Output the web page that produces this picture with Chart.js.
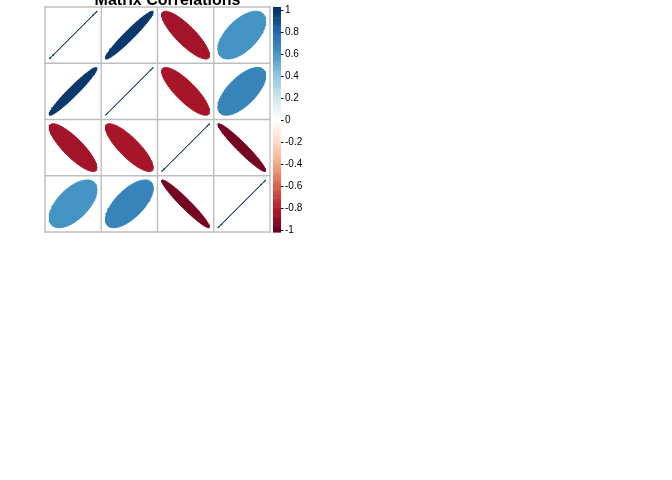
<!DOCTYPE html>
<html><head><meta charset="utf-8">
<script src="https://cdn.jsdelivr.net/npm/chart.js@4/dist/chart.umd.min.js"></script>
<style>html,body{margin:0;padding:0;background:#fff}#wrap{width:672px;height:480px;position:relative}</style>
</head><body><div id="wrap"><canvas id="c"></canvas></div>
<script>
// ---- data ----
const chartTitle = 'Matrix Correlations';
const corrRow1 = [1.00, 0.96, -0.84, 0.59];
const corrRow2 = [0.96, 1.00, -0.83, 0.66];
const corrRow3 = [-0.84, -0.83, 1.00, -0.96];
const corrRow4 = [0.59, 0.66, -0.96, 1.00];
const corrRows = [corrRow1, corrRow2, corrRow3, corrRow4];
const colorbarTicks = [1, 0.8, 0.6, 0.4, 0.2, 0, -0.2, -0.4, -0.6, -0.8, -1];
const colorbarLabels = ['1', '0.8', '0.6', '0.4', '0.2', '0', '-0.2', '-0.4', '-0.6', '-0.8', '-1'];
const paletteAnchors = ['#67001F','#B2182B','#D6604D','#F4A582','#FDDBC7','#FFFFFF','#D1E5F0','#92C5DE','#4393C3','#2166AC','#053061'];

// ---- palette (colorRampPalette(anchors)(200)) ----
const NCOL = 200;
function hexToRgb(h){return [parseInt(h.slice(1,3),16),parseInt(h.slice(3,5),16),parseInt(h.slice(5,7),16)];}
const anchorRgb = paletteAnchors.map(hexToRgb);
function paletteColor(i){
  const t = i/(NCOL-1)*(anchorRgb.length-1);
  const s = Math.min(Math.floor(t), anchorRgb.length-2);
  const f = t - s;
  const a = anchorRgb[s], b = anchorRgb[s+1];
  const c = a.map((v,j)=>Math.round(v+(b[j]-v)*f));
  return 'rgb('+c.join(',')+')';
}
function colorFor(r){
  let n = (r+1)/2; if (n>=1) n = 1-1e-10;
  return paletteColor(Math.floor(n*NCOL));
}
function ellipsePoints(r, row, col){
  const rr = Math.max(-1, Math.min(1, r));
  const d = Math.acos(rr), pts = [];
  for (let i=0;i<99;i++){
    const k = 2*Math.PI*i/98;
    const ex = 0.85*Math.cos(k + d/2)/2;
    const ey = 0.85*Math.cos(k - d/2)/2;
    pts.push({x: col+0.5+ex, y: row+0.5-ey});
  }
  return pts;
}

const datasets = [];
corrRows.forEach((rowVals, ri)=>{
  rowVals.forEach((r, ci)=>{
    const col = colorFor(r);
    datasets.push({
      data: ellipsePoints(r, ri, ci),
      showLine: true, fill: 'shape', tension: 0,
      borderColor: col, backgroundColor: col, borderWidth: 1,
      pointRadius: 0, pointHoverRadius: 0
    });
  });
});

const decorPlugin = {
  id: 'decor',
  beforeDatasetsDraw(chart){
    const ctx = chart.ctx, xs = chart.scales.x, ys = chart.scales.y;
    ctx.save();
    ctx.strokeStyle = '#BEBEBE'; ctx.lineWidth = 1.4;
    const n = corrRows.length;
    for (let i=0;i<=n;i++){
      const px = xs.getPixelForValue(i);
      ctx.beginPath(); ctx.moveTo(px, ys.getPixelForValue(0)-0.7); ctx.lineTo(px, ys.getPixelForValue(n)+0.7); ctx.stroke();
      const py = ys.getPixelForValue(i);
      ctx.beginPath(); ctx.moveTo(xs.getPixelForValue(0)-0.7, py); ctx.lineTo(xs.getPixelForValue(n)+0.7, py); ctx.stroke();
    }
    ctx.restore();
  },
  afterDraw(chart){
    const ctx = chart.ctx, cb = chart.scales.cb, area = chart.chartArea;
    ctx.save();
    // colorbar
    const x0 = area.right + 3, w = 8;
    for (let i=0;i<NCOL;i++){
      const v0 = -1 + 2*i/NCOL, v1 = -1 + 2*(i+1)/NCOL;
      const yA = cb.getPixelForValue(v1), yB = cb.getPixelForValue(v0);
      ctx.fillStyle = paletteColor(i);
      ctx.fillRect(x0, yA, w, yB - yA + 0.6);
    }
    ctx.fillStyle = '#000'; ctx.strokeStyle = '#000'; ctx.lineWidth = 1;
    ctx.font = '10px "Liberation Sans", Arial, sans-serif';
    ctx.textAlign = 'left'; ctx.textBaseline = 'middle';
    colorbarTicks.forEach((v, i)=>{
      const y = cb.getPixelForValue(v*0.98) + 0.5;
      ctx.beginPath(); ctx.moveTo(x0+w, Math.round(y)+0.5); ctx.lineTo(x0+w+2.5, Math.round(y)+0.5); ctx.stroke();
      ctx.fillText(colorbarLabels[i], x0+w+4, y);
    });
    // title
    ctx.font = 'bold 16px "Liberation Sans", Arial, sans-serif';
    ctx.textAlign = 'center'; ctx.textBaseline = 'alphabetic';
    ctx.fillText(chartTitle, (area.left+area.right)/2 + 10, area.top - 2);
    ctx.restore();
  }
};

new Chart(document.getElementById('c'), {
  type: 'scatter',
  data: { datasets },
  options: {
    responsive: true, maintainAspectRatio: false, animation: false,
    layout: { padding: { left: 45, right: 402, top: 7, bottom: 248 } },
    plugins: { legend: { display: false }, tooltip: { enabled: false }, title: { display: false } },
    scales: {
      x: { type: 'linear', min: 0, max: 4, display: false },
      y: { type: 'linear', min: 0, max: 4, reverse: true, display: false },
      cb: { type: 'linear', axis: 'y', position: 'right', min: -1, max: 1, display: false }
    }
  },
  plugins: [decorPlugin]
});
</script></body></html>
